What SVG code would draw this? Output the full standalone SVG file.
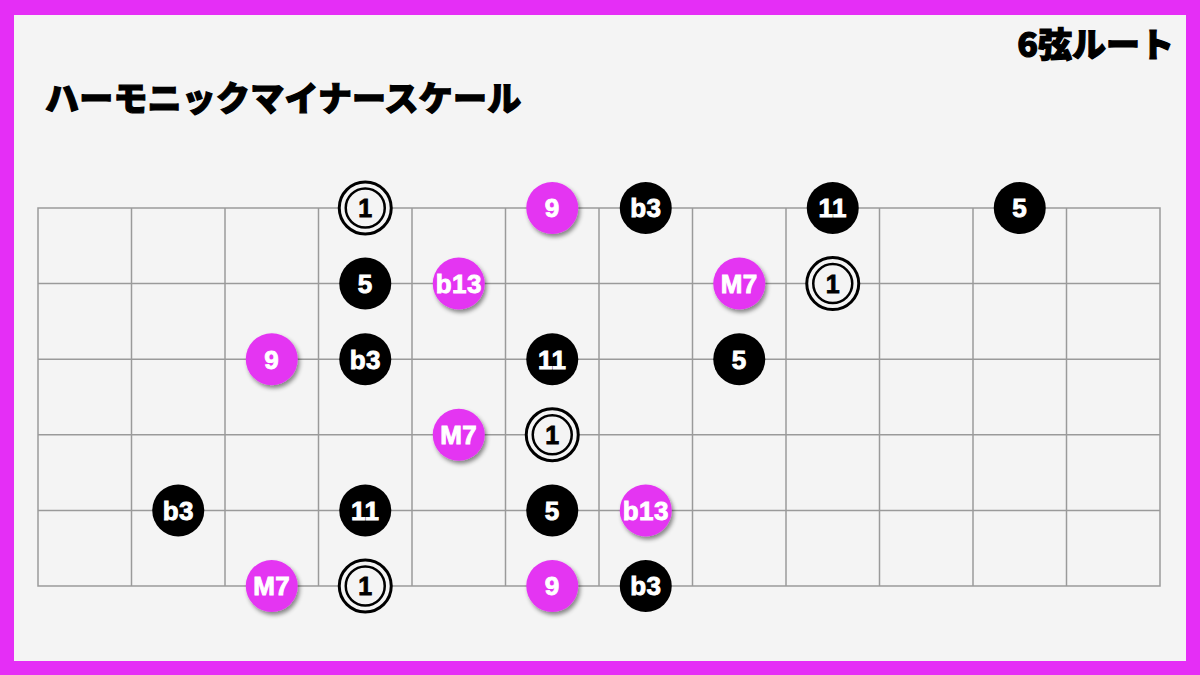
<svg xmlns="http://www.w3.org/2000/svg" width="1200" height="675" viewBox="0 0 1200 675">
<defs>
<filter id="sh" x="-40%" y="-40%" width="180%" height="180%">
<feDropShadow dx="2" dy="3" stdDeviation="2" flood-color="#000" flood-opacity="0.45"/>
</filter>
<style>
.grid{stroke:#9a9a9a;stroke-width:1.5;fill:none}
.blk{fill:#000}
.mag{fill:#e436f2;filter:url(#sh)}
.rootOuter{fill:#f4f4f4;stroke:#000;stroke-width:3}
.rootInner{fill:none;stroke:#000;stroke-width:2.5}
.lbl{font-family:'Liberation Sans',Arial,Helvetica,sans-serif}
.lw{font-weight:bold;font-size:26px;letter-spacing:0.4px;fill:#fff;stroke:#fff;stroke-width:0.9;text-anchor:middle}
.lb{font-weight:bold;font-size:25px;fill:#000;stroke:#000;stroke-width:0.8;text-anchor:middle}
.title{font-family:'Noto Sans CJK JP','Noto Sans CJK SC',sans-serif;font-weight:900;fill:#000;stroke:#000;stroke-width:1.2}
</style>
</defs>
<rect x="0" y="0" width="1200" height="675" fill="#e52ef6"/>
<rect x="14" y="15" width="1172" height="646" fill="#f4f4f4"/>
<text class="title" x="45" y="111" font-size="34" letter-spacing="0.2">ハーモニックマイナースケール</text>
<text class="title" x="1174" y="57" font-size="34" text-anchor="end">6弦ルート</text>
<g id="fretboard" class="grid">
<rect x="38" y="208" width="1122" height="378"/>
<path d="M38 283.6H1160M38 359.2H1160M38 434.8H1160M38 510.4H1160"/>
<path d="M131.5 208V586M225 208V586M318.5 208V586M412 208V586M505.5 208V586M599 208V586M692.5 208V586M786 208V586M879.5 208V586M973 208V586M1066.5 208V586"/>
</g>
<g id="connectors"></g>
<g class="lbl">
<!-- row 0 -->
<g id="n0a"><circle class="rootOuter" cx="365.25" cy="208" r="26"/><circle class="rootInner" cx="365.25" cy="208" r="19.5"/><text class="lb" x="365.25" y="217">1</text></g>
<g id="n0b"><circle class="mag" cx="552.25" cy="208" r="26"/><text class="lw" x="552.25" y="217.3">9</text></g>
<g id="n0c"><circle class="blk" cx="645.75" cy="208" r="26"/><text class="lw" x="645.75" y="217.3">b3</text></g>
<g id="n0d"><circle class="blk" cx="832.75" cy="208" r="26"/><text class="lw" x="832.75" y="217.3">11</text></g>
<g id="n0e"><circle class="blk" cx="1019.75" cy="208" r="26"/><text class="lw" x="1019.75" y="217.3">5</text></g>
<!-- row 1 -->
<g id="n1a"><circle class="blk" cx="365.25" cy="283.6" r="26"/><text class="lw" x="365.25" y="292.9">5</text></g>
<g id="n1b"><circle class="mag" cx="458.75" cy="283.6" r="26"/><text class="lw" x="458.75" y="292.9">b13</text></g>
<g id="n1c"><circle class="mag" cx="739.25" cy="283.6" r="26"/><text class="lw" x="739.25" y="292.9">M7</text></g>
<g id="n1d"><circle class="rootOuter" cx="832.75" cy="283.6" r="26"/><circle class="rootInner" cx="832.75" cy="283.6" r="19.5"/><text class="lb" x="832.75" y="292.6">1</text></g>
<!-- row 2 -->
<g id="n2a"><circle class="mag" cx="271.75" cy="359.2" r="26"/><text class="lw" x="271.75" y="368.5">9</text></g>
<g id="n2b"><circle class="blk" cx="365.25" cy="359.2" r="26"/><text class="lw" x="365.25" y="368.5">b3</text></g>
<g id="n2c"><circle class="blk" cx="552.25" cy="359.2" r="26"/><text class="lw" x="552.25" y="368.5">11</text></g>
<g id="n2d"><circle class="blk" cx="739.25" cy="359.2" r="26"/><text class="lw" x="739.25" y="368.5">5</text></g>
<!-- row 3 -->
<g id="n3a"><circle class="mag" cx="458.75" cy="434.8" r="26"/><text class="lw" x="458.75" y="444.1">M7</text></g>
<g id="n3b"><circle class="rootOuter" cx="552.25" cy="434.8" r="26"/><circle class="rootInner" cx="552.25" cy="434.8" r="19.5"/><text class="lb" x="552.25" y="443.8">1</text></g>
<!-- row 4 -->
<g id="n4a"><circle class="blk" cx="178.25" cy="510.4" r="26"/><text class="lw" x="178.25" y="519.7">b3</text></g>
<g id="n4b"><circle class="blk" cx="365.25" cy="510.4" r="26"/><text class="lw" x="365.25" y="519.7">11</text></g>
<g id="n4c"><circle class="blk" cx="552.25" cy="510.4" r="26"/><text class="lw" x="552.25" y="519.7">5</text></g>
<g id="n4d"><circle class="mag" cx="645.75" cy="510.4" r="26"/><text class="lw" x="645.75" y="519.7">b13</text></g>
<!-- row 5 -->
<g id="n5a"><circle class="mag" cx="271.75" cy="586" r="26"/><text class="lw" x="271.75" y="595.3">M7</text></g>
<g id="n5b"><circle class="rootOuter" cx="365.25" cy="586" r="26"/><circle class="rootInner" cx="365.25" cy="586" r="19.5"/><text class="lb" x="365.25" y="595">1</text></g>
<g id="n5c"><circle class="mag" cx="552.25" cy="586" r="26"/><text class="lw" x="552.25" y="595.3">9</text></g>
<g id="n5d"><circle class="blk" cx="645.75" cy="586" r="26"/><text class="lw" x="645.75" y="595.3">b3</text></g>
</g>
</svg>
